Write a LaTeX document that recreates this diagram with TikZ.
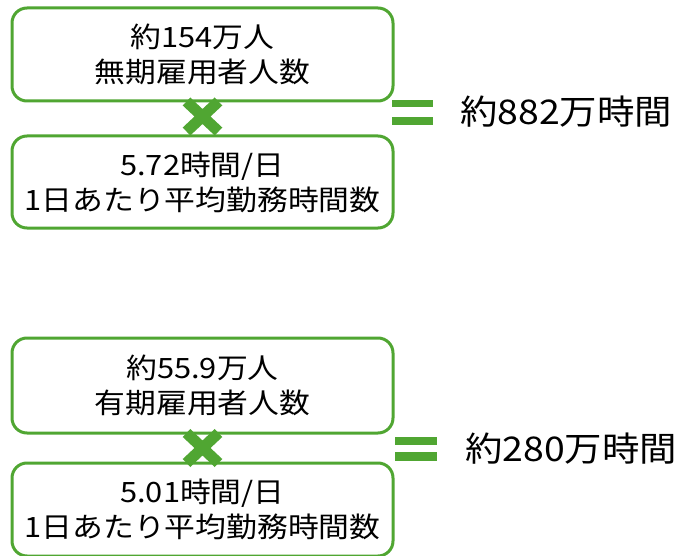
\documentclass[tikz,border=0pt]{standalone}
\usepackage{fontspec}
\newfontfamily\jp[FakeStretch=1.1]{Noto Sans CJK JP}
\usetikzlibrary{calc}
\definecolor{grn}{RGB}{80,166,50}
\tikzset{
  box/.style={draw=grn, line width=3pt, rounded corners=15pt, minimum width=381pt,
    align=center, inner sep=0pt, font=\jp\fontsize{28}{35}\selectfont},
  cross/.style={draw=grn, line width=11pt},
  eqbar/.style={fill=grn, draw=none},
  result/.style={font=\jp\fontsize{34}{40}\selectfont, anchor=west, inner sep=0pt}
}
\begin{document}
\begin{tikzpicture}[x=1pt,y=-1pt]
\useasboundingbox (0,0) rectangle (682,556);
% top group
\node[box, minimum height=93pt] (n1) at (202.5,54.5) {約154万人\\無期雇用者人数};
\node[box, minimum height=92pt] (n2) at (202.5,182) {5.72時間/日\\1日あたり平均勤務時間数};
\coordinate (x1) at ($(n1.south)!0.5!(n2.north)+(0,-2)$);
\draw[cross] (x1) ++(-16,-15) -- ++(32,30);
\draw[cross] (x1) ++(16,-15) -- ++(-32,30);
\fill[eqbar] (392,100) rectangle (433,107);
\fill[eqbar] (392,117) rectangle (433,125);
\node[result] (r1) at (460,112) {約882万時間};
% bottom group
\node[box, minimum height=95pt] (n3) at (202.5,385.5) {約55.9万人\\有期雇用者人数};
\node[box, minimum height=93pt] (n4) at (202.5,509.5) {5.01時間/日\\1日あたり平均勤務時間数};
\coordinate (x2) at ($(n3.south)!0.5!(n4.north)$);
\draw[cross] (x2) ++(-16,-15) -- ++(32,30);
\draw[cross] (x2) ++(16,-15) -- ++(-32,30);
\fill[eqbar] (395,437) rectangle (437,445);
\fill[eqbar] (395,452) rectangle (437,461);
\node[result] (r2) at (465,449) {約280万時間};
\end{tikzpicture}
\end{document}
